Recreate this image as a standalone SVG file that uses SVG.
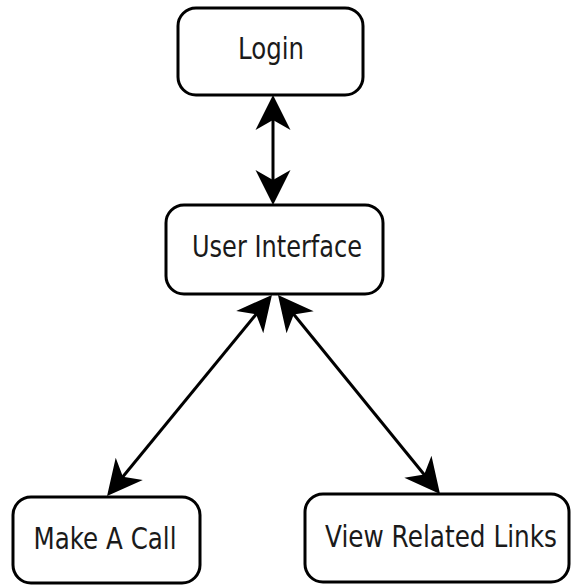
<svg xmlns="http://www.w3.org/2000/svg" width="571" height="585" viewBox="0 0 571 585">
  <style>
    .box { fill: #ffffff; stroke: #000000; stroke-width: 3; }
    .label { font-family: "DejaVu Sans", "Liberation Sans", sans-serif; font-size: 24.5px; fill: #1a1a1a; text-anchor: middle; }
    .link { fill: none; stroke: #000000; stroke-width: 3; }
  </style>
  <defs>
    <!-- concave "classic" arrowhead; tip sits 10 units past the line end -->
    <marker id="head" markerUnits="userSpaceOnUse" viewBox="-30 -20 45 40" refX="0" refY="0" markerWidth="45" markerHeight="40" orient="auto-start-reverse">
      <path d="M10,0 L-25,-17.5 L-15,0 L-25,17.5 Z" fill="#000000"/>
    </marker>
  </defs>

  <rect width="571" height="585" fill="#ffffff"/>

  <g id="connectors">
    <path class="link" d="M273,105 L273,195" marker-start="url(#head)" marker-end="url(#head)"/>
    <path class="link" d="M265.6,302.7 L113.4,488.3" marker-start="url(#head)" marker-end="url(#head)"/>
    <path class="link" d="M284.3,302.8 L433.7,486.2" marker-start="url(#head)" marker-end="url(#head)"/>
  </g>

  <!-- labels use a tall, narrow face: glyphs stretched vertically -->
  <g id="login">
    <rect class="box" x="178" y="8" width="185" height="87" rx="18" ry="18"/>
    <text class="label" transform="translate(271,59) scale(1,1.23)" textLength="66" lengthAdjust="spacingAndGlyphs">Login</text>
  </g>

  <g id="user-interface">
    <rect class="box" x="166" y="205" width="217" height="89" rx="18" ry="18"/>
    <text class="label" transform="translate(277,257) scale(1,1.23)" textLength="170" lengthAdjust="spacingAndGlyphs">User Interface</text>
  </g>

  <g id="make-a-call">
    <rect class="box" x="13" y="497" width="187" height="86" rx="18" ry="18"/>
    <text class="label" transform="translate(105,549) scale(1,1.23)" textLength="143" lengthAdjust="spacingAndGlyphs">Make A Call</text>
  </g>

  <g id="view-related-links">
    <rect class="box" x="305" y="494" width="264" height="88" rx="18" ry="18"/>
    <text class="label" transform="translate(441,547) scale(1,1.23)" textLength="232" lengthAdjust="spacingAndGlyphs">View Related Links</text>
  </g>
</svg>
